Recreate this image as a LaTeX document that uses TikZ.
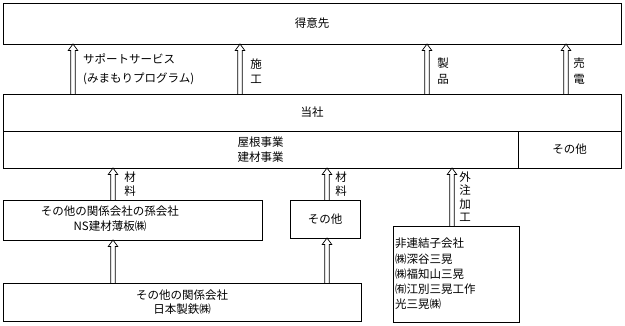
\documentclass[tikz,border=0pt]{standalone}
\usepackage{fontspec}
\setmainfont{Noto Sans CJK JP}
\usetikzlibrary{calc}
\tikzset{box/.style={draw,line width=.8pt,inner sep=0pt,outer sep=0pt,align=center,font={\fontsize{11.5}{14.5}\selectfont}},txt/.style={inner sep=0pt,align=center,font={\fontsize{11.5}{15}\selectfont}},vlbl/.style={inner sep=0pt,align=center,font={\fontsize{11.5}{13.5}\selectfont}},hollow/.style={line width=.7pt,line join=miter,to path={let \p1=(\tikztostart),\p2=(\tikztotarget) in (\x1-2.2pt,\y1)--(\x1-2.2pt,\y2-6.5pt)--(\x1-4.8pt,\y2-6.5pt)--(\x1,\y2)--(\x1+4.8pt,\y2-6.5pt)--(\x1+2.2pt,\y2-6.5pt)--(\x1+2.2pt,\y1)}}}
\begin{document}
\begin{tikzpicture}[x=1pt,y=-1pt]
\useasboundingbox (0,0) rectangle (625,326);
\node[box,minimum width=618pt,minimum height=41pt] (toku) at (312,23.5) {得意先};
\node[box,minimum width=618pt,minimum height=37pt] (tosha) at (312,112.5) {当社};
\node[box,minimum width=515pt,minimum height=37pt] (yane) at (260.5,149.5) {屋根事業\\建材事業};
\node[box,minimum width=103pt,minimum height=37pt] (hoka) at (569.5,149.5) {その他};
\node[box,minimum width=259pt,minimum height=40pt] (mago) at (132.5,220) {};
\node[txt] (magot) at (110,219) {その他の関係会社の孫会社\\NS建材薄板㈱};
\node[box,minimum width=70pt,minimum height=38pt] (sono) at (325,219) {その他};
\node[box,minimum width=358pt,minimum height=38pt] (kankei) at (182,302) {その他の関係会社\\日本製鉄㈱};
\node[box,minimum width=126pt,minimum height=96pt,text width=122pt,align=left,inner xsep=2pt,font={\fontsize{11.5}{15.3}\selectfont}] (hiren) at (456,274) {非連結子会社\\㈱深谷三晃\\㈱福知山三晃\\㈲江別三晃工作\\光三晃㈱};
\draw[hollow] (tosha.north -| 73,0) to (toku.south -| 73,0);
\draw[hollow] (tosha.north -| 240,0) to (toku.south -| 240,0);
\draw[hollow] (tosha.north -| 427,0) to (toku.south -| 427,0);
\draw[hollow] (tosha.north -| 566,0) to (toku.south -| 566,0);
\draw[hollow] (mago.north -| 113,0) to (yane.south -| 113,0);
\draw[hollow] (sono.north -| 327,0) to (yane.south -| 327,0);
\draw[hollow] (hiren.north -| 452,0) to (yane.south -| 452,0);
\draw[hollow] (kankei.north -| 113,0) to (mago.south -| 113,0);
\draw[hollow] (kankei.north -| 327,0) to (sono.south -| 327,0);
\node[txt,anchor=west,align=left,font={\fontsize{11.5}{19}\selectfont}] (sup) at (83,69.5) {サポートサービス\\(みまもりプログラム)};
\node[vlbl,font={\fontsize{11.5}{15.5}\selectfont}] (seko) at (256,71) {施\\工};
\node[vlbl,font={\fontsize{11.5}{15.5}\selectfont}] (seihin) at (443,71) {製\\品};
\node[vlbl,font={\fontsize{11.5}{15.5}\selectfont}] (baiden) at (579,71) {売\\電};
\node[vlbl] (zai1) at (130,184) {材\\料};
\node[vlbl] (zai2) at (341,184) {材\\料};
\node[vlbl] (gaichu) at (465,196.5) {外\\注\\加\\工};
\end{tikzpicture}
\end{document}
